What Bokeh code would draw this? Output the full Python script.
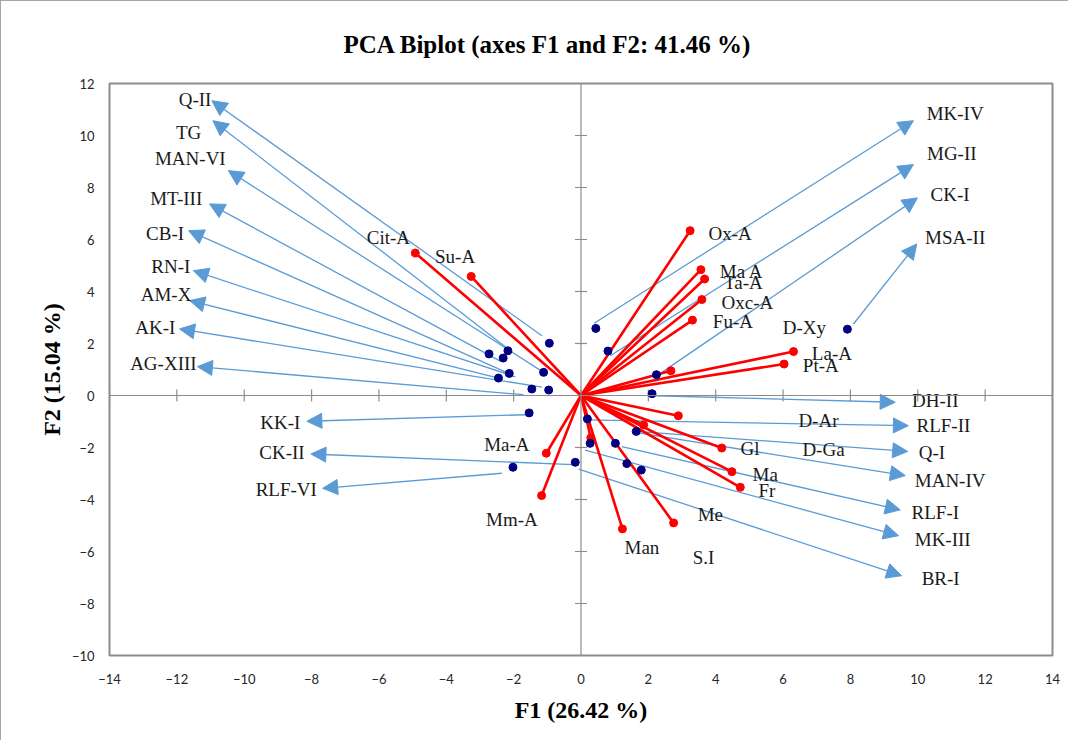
from math import pi
from bokeh.plotting import figure
from bokeh.models import ColumnDataSource, Arrow, NormalHead, Span, FixedTicker, Range1d
from bokeh.embed import file_html
from bokeh.resources import INLINE
from bokeh.core.properties import value

# ---------------- data ----------------
# observations (navy dots)
obs_x = [-0.94, -2.17, -2.73, -2.31, -1.11, -2.13, -2.45, -1.46, -0.96,
         0.44, 0.80, 2.24, 2.11, 7.91, -1.54, 0.19, 1.64, 0.27, 1.02,
         -0.17, -2.02, 1.36, 1.79]
obs_y = [2.01, 1.72, 1.60, 1.44, 0.89, 0.85, 0.67, 0.25, 0.21,
         2.58, 1.71, 0.80, 0.07, 2.55, -0.67, -0.90, -1.38, -1.84, -1.84,
         -2.57, -2.76, -2.62, -2.87]

# observation labels with leader arrows
obs_names = ["Q-II", "TG", "MAN-VI", "MT-III", "CB-I", "RN-I", "AM-X", "AK-I", "AG-XIII",
             "KK-I", "CK-II", "RLF-VI",
             "MK-IV", "MG-II", "CK-I", "MSA-II", "DH-II", "RLF-II", "Q-I", "MAN-IV",
             "RLF-I", "MK-III", "BR-I"]
arrow_x0 = [-1.16, -2.20, -1.11, -2.40, -2.15, -1.95, -2.45, -1.16, -1.71,
            -1.66, -0.22, -2.35,
            0.39, 0.87, 2.40, 8.09, 2.20, 0.19, 1.64, 1.75,
            1.21, 0.12, -0.07]
arrow_y0 = [2.30, 1.83, 0.89, 1.32, 0.85, 0.72, 0.67, 0.32, 0.03,
            -0.74, -2.66, -2.99,
            2.78, 1.53, 0.89, 2.75, -0.01, -0.94, -1.38, -1.45,
            -1.97, -2.10, -2.83]
arrow_x1 = [-10.96, -10.93, -10.47, -11.03, -11.65, -11.51, -11.62, -11.92, -11.39,
            -8.14, -8.02, -7.67,
            9.87, 9.87, 9.99, 9.97, 9.33, 9.72, 9.70, 9.63,
            9.48, 9.43, 9.52]
arrow_y1 = [11.34, 10.57, 8.65, 7.37, 6.34, 4.80, 3.65, 2.56, 1.11,
            -0.99, -2.25, -3.57,
            10.57, 8.88, 7.60, 5.83, -0.26, -1.16, -2.15, -3.08,
            -4.40, -5.39, -6.93]
obs_label_x = [-11.46, -11.65, -11.60, -12.02, -12.35, -12.18, -12.32, -12.64, -12.40,
               -8.93, -8.88, -8.75,
               11.11, 11.01, 10.96, 11.11, 10.52, 10.76, 10.42, 10.96,
               10.52, 10.74, 10.68]
obs_label_y = [11.40, 10.12, 9.10, 7.58, 6.24, 4.95, 3.88, 2.60, 1.24,
               -1.03, -2.21, -3.62,
               10.83, 9.29, 7.72, 6.08, -0.20, -1.16, -2.18, -3.28,
               -4.49, -5.52, -7.02]

# variables (red vectors)
var_names = ["Ox-A", "Ma A", "Ta-A", "Oxc-A", "Fu-A", "D-Xy", "La-A", "Pt-A",
             "D-Ar", "D-Ga", "Gl", "Ma", "Fr", "Me", "Man", "S.I",
             "Cit-A", "Su-A", "Ma-A", "Mm-A"]
var_x = [3.24, 3.56, 3.67, 3.59, 3.31, 2.67, 6.31, 6.03,
         2.89, 1.86, 4.18, 4.48, 4.73, 2.75, 1.23, 0.29,
         -4.92, -3.26, -1.03, -1.17]
var_y = [6.34, 4.84, 4.48, 3.69, 2.90, 0.95, 1.69, 1.21,
         -0.78, -1.13, -2.02, -2.93, -3.53, -4.90, -5.13, -1.63,
         5.48, 4.58, -2.22, -3.85]
var_label_x = [4.43, 4.77, 4.82, 4.94, 4.51, 6.63, 7.45, 7.12,
               7.05, 7.20, 5.02, 5.47, 5.52, 3.84, 1.81, 3.64,
               -5.72, -3.74, -2.20, -2.05]
var_label_y = [6.24, 4.78, 4.35, 3.58, 2.85, 2.62, 1.60, 1.15,
               -0.97, -2.06, -2.05, -3.02, -3.66, -4.56, -5.84, -6.22,
               6.06, 5.34, -1.87, -4.78]

x_ticks = list(range(-14, 15, 2))
y_ticks = list(range(-10, 13, 2))

# ---------------- figure ----------------
p = figure(width=1068, height=740, x_range=Range1d(-14, 14), y_range=Range1d(-10, 12),
           output_backend="svg", toolbar_location=None,
           min_border_left=108, min_border_right=17, min_border_top=82, min_border_bottom=86)
p.styles = {"border-left": "1px solid #a6a6a6", "border-top": "1px solid #a6a6a6"}
p.grid.visible = False
p.outline_line_color = "#8c8c8c"
p.outline_line_width = 2

p.title.text = "PCA Biplot (axes F1 and F2: 41.46 %)"
p.title.align = "left"
p.title.offset = 234
p.title.text_font = "Liberation Serif"
p.title.text_font_size = "25px"
p.title.text_font_style = "bold"
p.title.text_color = "black"
p.title.standoff = 51

for ax in (p.xaxis[0], p.yaxis[0]):
    ax.axis_line_color = None
    ax.major_tick_out = 0
    ax.major_tick_in = 0
    ax.minor_tick_out = 0
    ax.minor_tick_in = 0
    ax.major_label_text_font = "Lato"
    ax.major_label_text_font_size = "13px"
    ax.major_label_text_color = "#262626"
    ax.axis_label_text_font = "Liberation Serif"
    ax.axis_label_text_font_size = "24px"
    ax.axis_label_text_font_style = "bold"
    ax.axis_label_text_color = "black"
p.xaxis.ticker = FixedTicker(ticks=x_ticks)
p.yaxis.ticker = FixedTicker(ticks=y_ticks)
p.xaxis.axis_label = "F1 (26.42 %)"
p.yaxis.axis_label = "F2 (15.04 %)"
p.xaxis.major_label_standoff = 18
p.yaxis.major_label_standoff = 15
p.xaxis.axis_label_standoff = 10
p.yaxis.axis_label_standoff = 4

# zero lines with cross ticks
p.add_layout(Span(location=0, dimension="width", line_color="#8c8c8c", line_width=1.2))
p.add_layout(Span(location=0, dimension="height", line_color="#8c8c8c", line_width=1.2))
p.scatter(x=x_ticks, y=[0] * len(x_ticks), marker="dash", size=12, angle=pi / 2,
          line_color="#8c8c8c", line_width=1.2)
p.scatter(x=[0] * len(y_ticks), y=y_ticks, marker="dash", size=12,
          line_color="#8c8c8c", line_width=1.2)

# blue leader arrows
arr_src = ColumnDataSource(dict(x0=arrow_x0, y0=arrow_y0, x1=arrow_x1, y1=arrow_y1))
arrow = Arrow(source=arr_src, x_start="x0", y_start="y0", x_end="x1", y_end="y1",
              line_color="#5B9BD5", line_width=1.3,
              end=NormalHead(size=15, fill_color="#5B9BD5", line_color="#5B9BD5", line_width=1))
arrow.level = "underlay"
p.add_layout(arrow)

# red variable vectors
p.segment(x0=[0] * len(var_x), y0=[0] * len(var_y), x1=var_x, y1=var_y,
          line_color="#FF0000", line_width=2.6)
p.scatter(x=var_x, y=var_y, size=8, color="#FF0000")

# observation dots
p.scatter(x=obs_x, y=obs_y, size=8, color="#000080")

# labels
obs_src = ColumnDataSource(dict(x=obs_label_x, y=obs_label_y, t=obs_names))
var_src = ColumnDataSource(dict(x=var_label_x, y=var_label_y, t=var_names))
for src in (obs_src, var_src):
    p.text(x="x", y="y", text="t", source=src, text_font=value("Liberation Serif"),
           text_font_size="19px", text_align="center", text_baseline="middle",
           text_color="#1a1a1a")

open("out.html", "w").write(file_html(p, INLINE))
